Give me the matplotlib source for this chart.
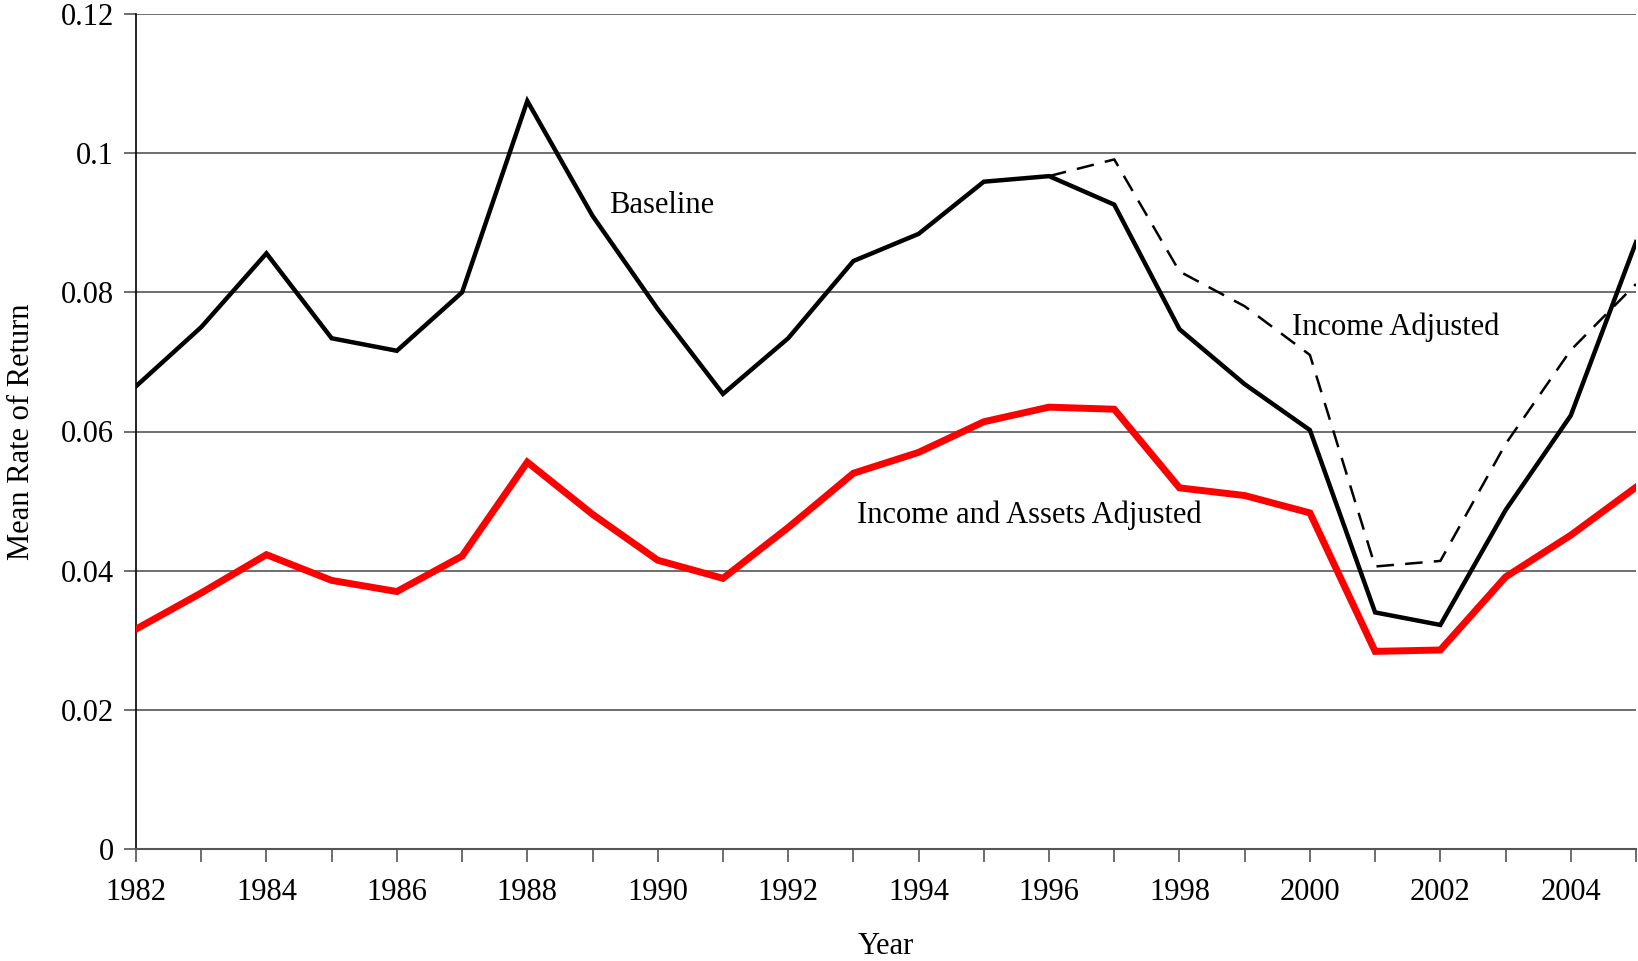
import numpy as np
import matplotlib.pyplot as plt

plt.rcParams["font.family"] = ["Liberation Serif", "DejaVu Serif"]

years = list(range(1982, 2006))
baseline = [0.0665, 0.0750, 0.0856, 0.0734, 0.0716, 0.0800, 0.1075, 0.0910,
            0.0776, 0.0654, 0.0734, 0.0845, 0.0884, 0.0959, 0.0967, 0.0926,
            0.0747, 0.0668, 0.0602, 0.0340, 0.0322, 0.0487, 0.0623, 0.0872]
income_years = list(range(1996, 2006))
income_adj = [0.0967, 0.0991, 0.0830, 0.0780, 0.0710, 0.0406, 0.0414,
              0.0582, 0.0717, 0.0812]
income_assets = [0.0316, 0.0368, 0.0423, 0.0386, 0.0370, 0.0421, 0.0556, 0.0481,
                 0.0415, 0.0389, 0.0462, 0.0540, 0.0570, 0.0614, 0.0635, 0.0632,
                 0.0519, 0.0508, 0.0483, 0.0284, 0.0286, 0.0391, 0.0451, 0.0520]

fig = plt.figure(figsize=(16.38, 9.61), dpi=100)
ax = fig.add_axes([136 / 1638, 1 - 849 / 961, (1636 - 136) / 1638, (849 - 14) / 961])

ax.plot(years, baseline, color="black", lw=3.2, solid_joinstyle="miter", zorder=3)
ax.plot(income_years, income_adj, color="black", lw=1.8, dashes=(7, 4.5), zorder=3)
ax.plot(years, income_assets, color="#ff0000", lw=5, solid_joinstyle="miter", zorder=3)

ax.set_xlim(1982, 2005)
ax.set_ylim(0, 0.12)
ax.set_xticks(range(1982, 2006))
ax.set_xticklabels([str(y) if y % 2 == 0 else "" for y in range(1982, 2006)])
ax.set_yticks([0, 0.02, 0.04, 0.06, 0.08, 0.1, 0.12])
ax.set_yticklabels(["0", "0.02", "0.04", "0.06", "0.08", "0.1", "0.12"])
ax.yaxis.grid(True, color="#555555", lw=1.2)
ax.set_axisbelow(True)
for s in ["top", "right"]:
    ax.spines[s].set_visible(False)
ax.spines["left"].set_color("black")
ax.spines["bottom"].set_color("#555555")
ax.spines["left"].set_linewidth(1.2)
ax.spines["bottom"].set_linewidth(1.5)
ax.tick_params(axis="both", direction="out", length=9, width=1.2, color="#555555",
               labelsize=22)
ax.tick_params(axis="x", pad=12)
ax.tick_params(axis="y", pad=7)

ax.set_xlabel("Year", fontsize=22, labelpad=18)
ax.set_ylabel("Mean Rate of Return", fontsize=22, labelpad=18)

ax.text(1989.25, 0.0925, "Baseline", fontsize=22, va="center", ha="left")
ax.text(1999.72, 0.0750, "Income Adjusted", fontsize=22, va="center", ha="left")
ax.text(1993.05, 0.0480, "Income and Assets Adjusted", fontsize=22, va="center", ha="left")

fig.savefig("out.png", dpi=100)
